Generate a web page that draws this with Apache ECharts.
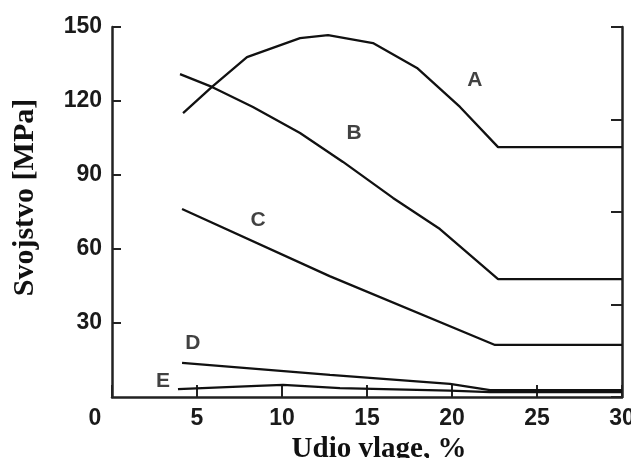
<!DOCTYPE html>
<html>
<head>
<meta charset="utf-8">
<script src="https://cdn.jsdelivr.net/npm/echarts@6/dist/echarts.min.js"></script>
<style>html,body{margin:0;padding:0;background:#fff;}#c{width:631px;height:458px;}</style>
</head>
<body>
<div id="c"></div>
<script>
// Curve A
const xA = [4.18, 5.88, 7.94, 11.06, 12.71, 15.35, 17.94, 20.47, 22.71, 30];
const yA = [115.1, 125.7, 137.8, 145.5, 146.7, 143.5, 133.4, 117.6, 101.3, 101.3];
// Curve B
const xB = [4.0, 5.88, 8.29, 11.06, 13.59, 16.53, 19.29, 22.71, 30];
const yB = [130.9, 125.7, 117.6, 107.0, 95.3, 80.7, 68.1, 47.8, 47.8];
// Curve C
const xC = [4.12, 12.8, 22.53, 30];
const yC = [76.2, 49.0, 21.1, 21.1];
// Curve D
const xD = [4.12, 12.82, 19.88, 22.24, 30];
const yD = [13.8, 9.0, 5.3, 2.8, 2.8];
// Curve E
const xE = [3.88, 8.53, 10.06, 13.41, 19.88, 22.24, 30];
const yE = [3.2, 4.5, 4.9, 3.6, 2.6, 2.0, 2.0];
// Curve label names and positions (data units)
const curveNames = ['A', 'B', 'C', 'D', 'E'];
const labelX = [21.35, 14.24, 8.59, 4.76, 3.0];
const labelY = [128.5, 107.0, 71.7, 21.9, 6.5];
// Axis
const xTitle = 'Udio vlage, %';
const yTitle = 'Svojstvo [MPa]';

const zip = (xs, ys) => xs.map((x, i) => [x, ys[i]]);
const curves = [zip(xA, yA), zip(xB, yB), zip(xC, yC), zip(xD, yD), zip(xE, yE)];

const axisCol = '#222';
const tickFont = {fontFamily: 'Liberation Sans', fontWeight: 'bold', fontSize: 23, color: '#1a1a1a'};

const chart = echarts.init(document.getElementById('c'), null, {renderer: 'canvas'});
chart.setOption({
  animation: false,
  backgroundColor: '#fff',
  grid: {left: 112, right: 9, top: 27, bottom: 61, containLabel: false, outerBoundsMode: 'none'},
  xAxis: {
    type: 'value', min: 0, max: 30, interval: 5,
    name: xTitle, nameLocation: 'middle', nameGap: 33,
    nameTextStyle: {fontFamily: 'Liberation Serif', fontWeight: 'bold', fontSize: 29, color: '#111', padding: [0, 0, 0, 24]},
    axisLine: {show: true, lineStyle: {color: axisCol, width: 2.5}},
    axisTick: {show: true, inside: true, length: 12, lineStyle: {color: axisCol, width: 2}},
    axisLabel: Object.assign({}, tickFont, {
      margin: 10,
      formatter: v => v === 0 ? '{o|0}' : String(v),
      rich: {o: Object.assign({}, tickFont, {padding: [0, 34, 0, 0]})}
    }),
    splitLine: {show: false}
  },
  yAxis: [{
    type: 'value', min: 0, max: 150, interval: 30,
    name: yTitle, nameLocation: 'middle', nameGap: 72, nameRotate: 90,
    nameTextStyle: {fontFamily: 'Liberation Serif', fontWeight: 'bold', fontSize: 30, color: '#111', padding: [0, 0, 0, 29]},
    axisLine: {show: true, lineStyle: {color: axisCol, width: 2.5}},
    axisTick: {show: true, inside: true, length: 9, lineStyle: {color: axisCol, width: 2}},
    axisLabel: Object.assign({}, tickFont, {margin: 10, showMinLabel: false}),
    splitLine: {show: false}
  }, {
    type: 'value', min: 0, max: 40, interval: 10, position: 'right',
    axisLine: {show: true, lineStyle: {color: axisCol, width: 2.5}},
    axisTick: {show: true, inside: true, length: 11, lineStyle: {color: axisCol, width: 2}},
    axisLabel: {show: false},
    splitLine: {show: false}
  }],
  series: curves.map((d, i) => ({
    type: 'line', name: curveNames[i], data: d, showSymbol: false, symbol: 'none',
    lineStyle: {color: '#111', width: 2.3}, z: 3
  })).concat([{
    type: 'scatter', symbolSize: 0,
    data: curveNames.map((n, i) => ({name: n, value: [labelX[i], labelY[i]]})),
    label: {show: true, position: 'inside', formatter: '{b}', fontFamily: 'Liberation Sans', fontWeight: 'bold', fontSize: 21, color: '#111'}
  }])
});
</script>
</body>
</html>
